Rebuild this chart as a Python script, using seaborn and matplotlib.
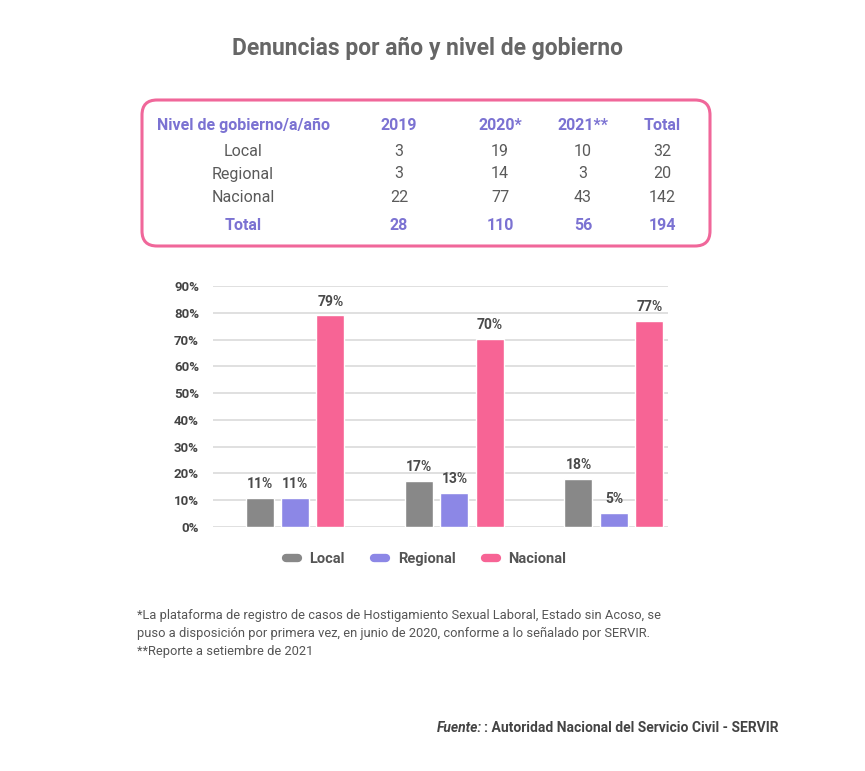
import matplotlib
matplotlib.use("Agg")
import matplotlib.pyplot as plt
from matplotlib.patches import FancyBboxPatch
from matplotlib.lines import Line2D
import seaborn as sns
import pandas as pd

# ---- data ----
years = ["2019", "2020*", "2021**"]
levels = ["Local", "Regional", "Nacional"]
local_pct = [10.8, 17.3, 18.0]
regional_pct = [10.8, 12.7, 5.4]
nacional_pct = [79.0, 70.3, 76.9]

table_header = ["Nivel de gobierno/a/año", "2019", "2020*", "2021**", "Total"]
table_local = ["Local", "3", "19", "10", "32"]
table_regional = ["Regional", "3", "14", "3", "20"]
table_nacional = ["Nacional", "22", "77", "43", "142"]
table_total = ["Total", "28", "110", "56", "194"]

colors = ["#888888", "#8c87e6", "#f76495"]
purple = "#7b72d2"
textgrey = "#5a5a5a"

sns.set_theme(style="white")
plt.rcParams["font.family"] = ["Roboto", "DejaVu Sans"]

W, H = 865, 771
fig = plt.figure(figsize=(W / 100, H / 100), dpi=100)
fig.patch.set_facecolor("white")

def fx(x):
    return x / W

def fy(y):
    return 1 - y / H

# ---- title ----
fig.text(fx(428), fy(48), "Denuncias por año y nivel de gobierno", ha="center", va="center",
         fontsize=16.5, fontweight="bold", color="#666666")

# ---- table box ----
box = FancyBboxPatch((1.42, (H - 246) / 100), 5.68, 1.46,
                     boxstyle="round,pad=0,rounding_size=0.15",
                     transform=fig.dpi_scale_trans, facecolor="white",
                     edgecolor="#f0679a", linewidth=2.2)
fig.patches.append(box)

col_x = [243, 399, 500, 583, 662]
rows = [(table_header, 125, True), (table_local, 151, False), (table_regional, 174, False),
        (table_nacional, 197, False), (table_total, 225, True)]
for vals, yy, bold in rows:
    for cx, v in zip(col_x, vals):
        fig.text(fx(cx), fy(yy), v, ha="center", va="center", fontsize=11.5,
                 fontweight="bold" if bold else "normal",
                 color=purple if bold else textgrey)

# ---- bar chart ----
df = pd.DataFrame({
    "year": years * 3,
    "level": [levels[0]] * 3 + [levels[1]] * 3 + [levels[2]] * 3,
    "pct": local_pct + regional_pct + nacional_pct,
})

ax = fig.add_axes([fx(213), fy(527), fx(668) - fx(213), fy(286) - fy(527)])
sns.barplot(data=df, x="year", y="pct", hue="level", hue_order=levels, palette=colors,
            width=0.667, gap=0.21, ax=ax, legend=False, saturation=1)
ax.set_ylim(0, 90)
ax.set_xlim(-0.514, 2.339)
ax.set_yticks(range(0, 91, 10))
ax.set_yticklabels([f"{v}%" for v in range(0, 91, 10)], fontsize=9.5, fontweight="bold", color="#444444")
ax.set_xticks([])
ax.set_xlabel("")
ax.set_ylabel("")
ax.tick_params(axis="y", length=0, pad=10)
for s in ax.spines.values():
    s.set_visible(False)
ax.yaxis.grid(True, color="#dadada", linewidth=1.2)
ax.set_axisbelow(True)

for cont in ax.containers:
    ax.bar_label(cont, labels=[f"{round(b.get_height()):d}%" for b in cont], padding=5,
                 fontsize=10, fontweight="bold", color="#4a4a4a")

handles = [Line2D([0], [0], color=c, lw=6, solid_capstyle="round") for c in colors]
fig.legend(handles, levels, loc="center", bbox_to_anchor=(fx(426), fy(559)), ncol=3,
           frameon=False, handlelength=0.82, handletextpad=0.8, columnspacing=2.0,
           prop={"size": 10.5, "weight": "bold"}, labelcolor="#555555")

# ---- footnotes ----
foot = ("*La plataforma de registro de casos de Hostigamiento Sexual Laboral, Estado sin Acoso, se\n"
        "puso a disposición por primera vez, en junio de 2020, conforme a lo señalado por SERVIR.\n"
        "**Reporte a setiembre de 2021")
fig.text(fx(137), fy(609), foot, ha="left", va="top", fontsize=9.3, color="#555555",
         linespacing=1.5)

src = fig.text(fx(778), fy(728), ": Autoridad Nacional del Servicio Civil - SERVIR", ha="right",
               va="center", fontsize=10, fontweight="bold", color="#444444")
fig.canvas.draw()
bb = src.get_window_extent()
fig.text(bb.x0 / W - 0.002, fy(728), "Fuente:", ha="right", va="center", fontsize=10,
         fontstyle="italic", fontweight="bold", color="#444444")

fig.savefig("out.png", dpi=100)
